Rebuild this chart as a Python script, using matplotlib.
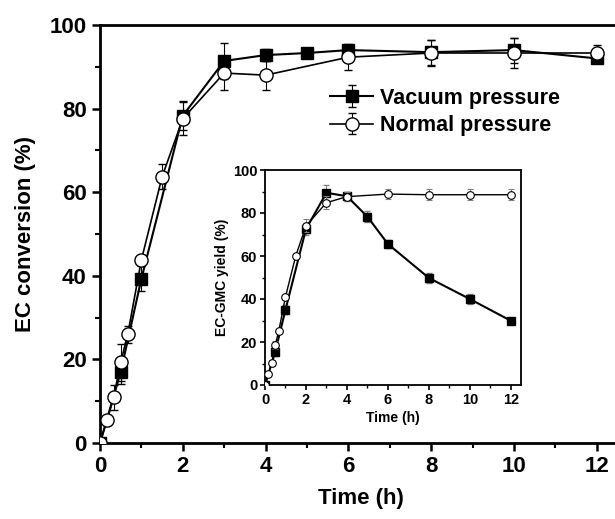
import matplotlib
matplotlib.use('Agg')
import matplotlib.pyplot as plt
from matplotlib.ticker import MultipleLocator

plt.rcParams['font.family'] = ['Liberation Sans', 'DejaVu Sans']
plt.rcParams['font.weight'] = 'bold'

# Main plot: EC conversion (%)
t_vac = [0, 0.5, 1, 2, 3, 4, 5, 6, 8, 10, 12]
conv_vac = [0, 17, 39.3, 78.3, 91.4, 92.8, 93.3, 94, 93.5, 94, 92]
conv_vac_err = [0, 3, 3, 3.5, 4.3, 1.5, 1, 1.5, 3, 3, 1]

t_norm = [0, 0.17, 0.33, 0.5, 0.67, 1, 1.5, 2, 3, 4, 6, 8, 10, 12]
conv_norm = [0, 5.4, 10.9, 19.3, 26, 43.8, 63.7, 77.6, 88.5, 88, 92.3, 93.3, 93.3, 93.3]
conv_norm_err = [0, 1, 3, 4.5, 2, 1, 3, 4, 4, 3.5, 3, 3, 3.5, 2]

# Inset: EC-GMC yield (%)
yld_vac = [0, 15.5, 35, 72.5, 89.4, 87.8, 78.3, 65.6, 49.8, 40, 29.9]
yld_vac_err = [0, 2, 2, 2.5, 3.5, 2, 2.5, 2, 2.5, 2.5, 1]
yld_norm = [0, 5.1, 10.4, 18.6, 25, 41, 60, 74, 84.8, 87.6, 88.8, 88.5, 88.5, 88.5]
yld_norm_err = [0, 1, 1, 2, 1, 1, 1, 3, 3, 2, 2.5, 2.5, 2.5, 2.5]

fig = plt.figure(figsize=(6.15, 5.19), dpi=100)
ax = fig.add_axes([100 / 615, 76 / 519, 521.6 / 615, 418 / 519])

ax.errorbar(t_vac, conv_vac, yerr=conv_vac_err, color='black', lw=1.5,
            marker='s', ms=9, mfc='black', mec='black',
            ecolor='black', elinewidth=0.8, capsize=3, label='Vacuum pressure', zorder=3)
ax.errorbar(t_norm, conv_norm, yerr=conv_norm_err, color='black', lw=1.2,
            marker='o', ms=9.5, mfc='white', mec='black', mew=1.0,
            ecolor='black', elinewidth=0.8, capsize=3, label='Normal pressure', zorder=4)

ax.set_xlim(0, 12.6)
ax.set_ylim(0, 100)
ax.xaxis.set_major_locator(MultipleLocator(2))
ax.xaxis.set_minor_locator(MultipleLocator(1))
ax.yaxis.set_major_locator(MultipleLocator(20))
ax.yaxis.set_minor_locator(MultipleLocator(10))
ax.tick_params(which='major', direction='out', length=6, width=1.8, labelsize=16)
ax.tick_params(which='minor', direction='out', length=3.5, width=1.5)
for s in ax.spines.values():
    s.set_linewidth(2)
ax.set_xlabel('Time (h)', fontsize=16, fontweight='bold', labelpad=8)
ax.set_ylabel('EC conversion (%)', fontsize=16, fontweight='bold', labelpad=10)

ax.legend(loc='upper left', bbox_to_anchor=(0.441, 0.85), frameon=False,
          fontsize=15.5, handlelength=2.0, handletextpad=0.3,
          labelspacing=0.3, borderpad=0, borderaxespad=0)

# inset
axi = fig.add_axes([265 / 615, 134 / 519, 256 / 615, 215 / 519])
axi.errorbar(t_vac, yld_vac, yerr=yld_vac_err, color='black', lw=1.5,
             marker='s', ms=5.5, mfc='black', mec='black',
             ecolor='gray', elinewidth=0.7, capsize=2, zorder=3)
axi.errorbar(t_norm, yld_norm, yerr=yld_norm_err, color='black', lw=1.0,
             marker='o', ms=5.5, mfc='white', mec='black', mew=0.8,
             ecolor='gray', elinewidth=0.7, capsize=2, zorder=4)
axi.set_xlim(0, 12.5)
axi.set_ylim(0, 100)
axi.xaxis.set_major_locator(MultipleLocator(2))
axi.xaxis.set_minor_locator(MultipleLocator(1))
axi.yaxis.set_major_locator(MultipleLocator(20))
axi.yaxis.set_minor_locator(MultipleLocator(10))
axi.tick_params(which='major', direction='out', length=3.5, width=1.2, labelsize=10.5, pad=2)
axi.tick_params(which='minor', direction='out', length=2, width=1.0)
for s in axi.spines.values():
    s.set_linewidth(1.3)
axi.set_xlabel('Time (h)', fontsize=10, fontweight='bold', labelpad=3)
axi.set_ylabel('EC-GMC yield (%)', fontsize=10, fontweight='bold', labelpad=3)

fig.savefig('out.png', dpi=100)
